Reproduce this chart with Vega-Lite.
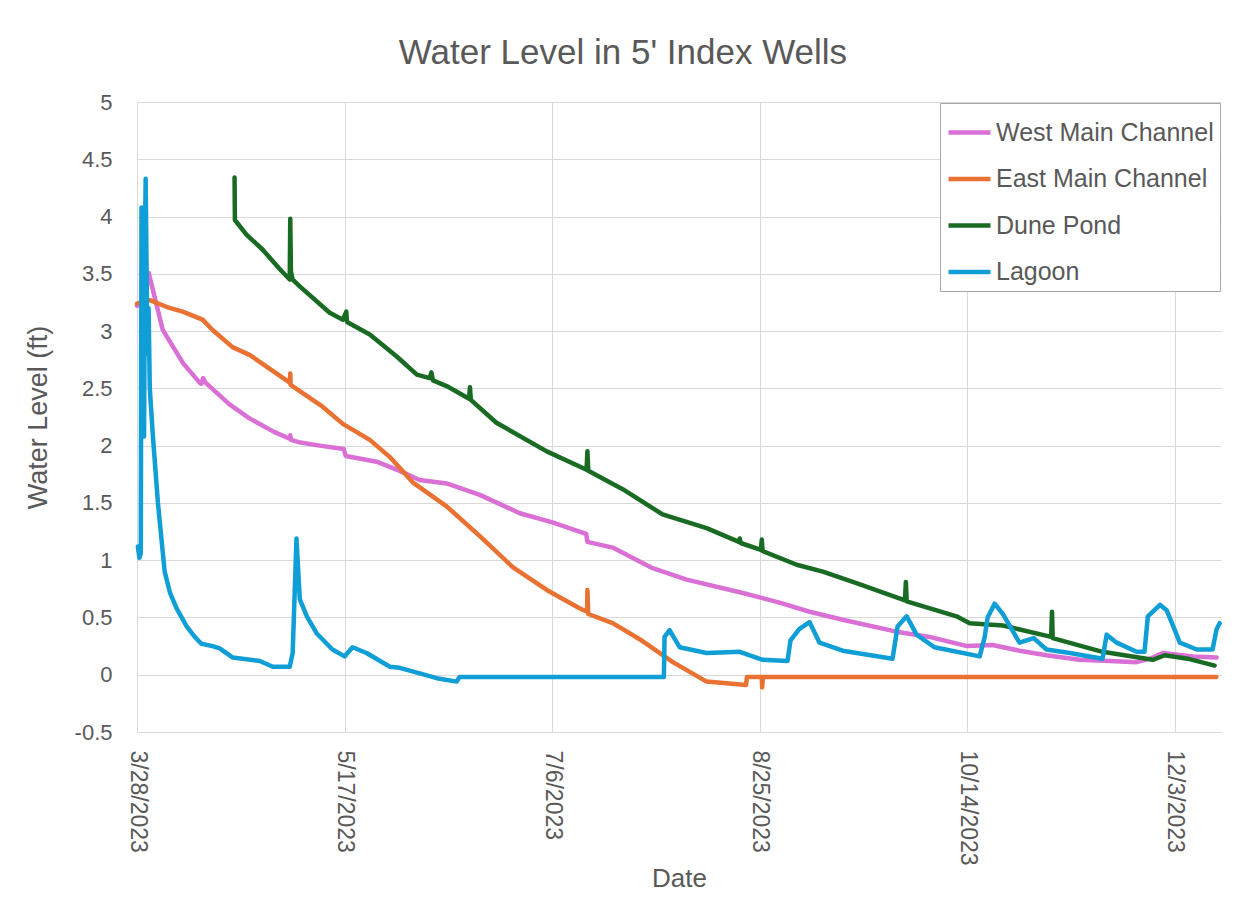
{
  "$schema": "https://vega.github.io/schema/vega-lite/v6.json",
  "autosize": {"type": "none"},
  "width": 1084,
  "height": 630,
  "padding": {"left": 137, "top": 102, "right": 35, "bottom": 171},
  "background": "white",
  "title": {"text": "Water Level in 5' Index Wells", "fontSize": 35, "font": "Liberation Sans", "fontWeight": "normal", "color": "#595959", "anchor": "middle", "frame": "bounds", "offset": 20},
  "data": {"values": [
    {"series": "West Main Channel", "date": "2023-03-28T00:00", "level": 3.22},
    {"series": "West Main Channel", "date": "2023-03-30T00:00", "level": 3.30},
    {"series": "West Main Channel", "date": "2023-03-30T19:00", "level": 3.51},
    {"series": "West Main Channel", "date": "2023-03-31T10:00", "level": 3.42},
    {"series": "West Main Channel", "date": "2023-04-03T05:00", "level": 3.01},
    {"series": "West Main Channel", "date": "2023-04-08T02:00", "level": 2.72},
    {"series": "West Main Channel", "date": "2023-04-12T02:00", "level": 2.55},
    {"series": "West Main Channel", "date": "2023-04-12T12:00", "level": 2.54},
    {"series": "West Main Channel", "date": "2023-04-12T22:00", "level": 2.59},
    {"series": "West Main Channel", "date": "2023-04-13T12:00", "level": 2.55},
    {"series": "West Main Channel", "date": "2023-04-19T07:00", "level": 2.36},
    {"series": "West Main Channel", "date": "2023-04-24T00:00", "level": 2.24},
    {"series": "West Main Channel", "date": "2023-04-30T00:00", "level": 2.12},
    {"series": "West Main Channel", "date": "2023-05-03T19:00", "level": 2.06},
    {"series": "West Main Channel", "date": "2023-05-03T22:00", "level": 2.09},
    {"series": "West Main Channel", "date": "2023-05-04T02:00", "level": 2.05},
    {"series": "West Main Channel", "date": "2023-05-06T00:00", "level": 2.03},
    {"series": "West Main Channel", "date": "2023-05-11T00:00", "level": 2.00},
    {"series": "West Main Channel", "date": "2023-05-16T19:00", "level": 1.97},
    {"series": "West Main Channel", "date": "2023-05-17T07:00", "level": 1.91},
    {"series": "West Main Channel", "date": "2023-05-24T17:00", "level": 1.86},
    {"series": "West Main Channel", "date": "2023-05-30T07:00", "level": 1.78},
    {"series": "West Main Channel", "date": "2023-06-04T02:00", "level": 1.70},
    {"series": "West Main Channel", "date": "2023-06-10T14:00", "level": 1.67},
    {"series": "West Main Channel", "date": "2023-06-18T14:00", "level": 1.57},
    {"series": "West Main Channel", "date": "2023-06-28T05:00", "level": 1.41},
    {"series": "West Main Channel", "date": "2023-07-06T02:00", "level": 1.33},
    {"series": "West Main Channel", "date": "2023-07-12T14:00", "level": 1.25},
    {"series": "West Main Channel", "date": "2023-07-14T05:00", "level": 1.23},
    {"series": "West Main Channel", "date": "2023-07-14T12:00", "level": 1.16},
    {"series": "West Main Channel", "date": "2023-07-20T14:00", "level": 1.11},
    {"series": "West Main Channel", "date": "2023-07-30T05:00", "level": 0.93},
    {"series": "West Main Channel", "date": "2023-08-07T10:00", "level": 0.83},
    {"series": "West Main Channel", "date": "2023-08-20T05:00", "level": 0.72},
    {"series": "West Main Channel", "date": "2023-08-29T19:00", "level": 0.63},
    {"series": "West Main Channel", "date": "2023-09-06T00:00", "level": 0.55},
    {"series": "West Main Channel", "date": "2023-09-14T00:00", "level": 0.48},
    {"series": "West Main Channel", "date": "2023-09-27T17:00", "level": 0.37},
    {"series": "West Main Channel", "date": "2023-10-04T22:00", "level": 0.33},
    {"series": "West Main Channel", "date": "2023-10-13T22:00", "level": 0.25},
    {"series": "West Main Channel", "date": "2023-10-20T02:00", "level": 0.26},
    {"series": "West Main Channel", "date": "2023-10-26T14:00", "level": 0.21},
    {"series": "West Main Channel", "date": "2023-11-02T02:00", "level": 0.17},
    {"series": "West Main Channel", "date": "2023-11-10T02:00", "level": 0.13},
    {"series": "West Main Channel", "date": "2023-11-17T07:00", "level": 0.12},
    {"series": "West Main Channel", "date": "2023-11-23T19:00", "level": 0.11},
    {"series": "West Main Channel", "date": "2023-11-27T00:00", "level": 0.14},
    {"series": "West Main Channel", "date": "2023-11-30T02:00", "level": 0.19},
    {"series": "West Main Channel", "date": "2023-12-07T07:00", "level": 0.16},
    {"series": "West Main Channel", "date": "2023-12-13T02:00", "level": 0.15},

    {"series": "East Main Channel", "date": "2023-03-28T00:00", "level": 3.24},
    {"series": "East Main Channel", "date": "2023-03-31T02:00", "level": 3.27},
    {"series": "East Main Channel", "date": "2023-04-04T05:00", "level": 3.21},
    {"series": "East Main Channel", "date": "2023-04-08T00:00", "level": 3.17},
    {"series": "East Main Channel", "date": "2023-04-12T19:00", "level": 3.10},
    {"series": "East Main Channel", "date": "2023-04-15T05:00", "level": 3.01},
    {"series": "East Main Channel", "date": "2023-04-20T00:00", "level": 2.86},
    {"series": "East Main Channel", "date": "2023-04-24T05:00", "level": 2.79},
    {"series": "East Main Channel", "date": "2023-04-29T00:00", "level": 2.67},
    {"series": "East Main Channel", "date": "2023-05-03T19:00", "level": 2.55},
    {"series": "East Main Channel", "date": "2023-05-03T22:00", "level": 2.63},
    {"series": "East Main Channel", "date": "2023-05-04T00:00", "level": 2.53},
    {"series": "East Main Channel", "date": "2023-05-11T17:00", "level": 2.34},
    {"series": "East Main Channel", "date": "2023-05-16T14:00", "level": 2.19},
    {"series": "East Main Channel", "date": "2023-05-23T02:00", "level": 2.05},
    {"series": "East Main Channel", "date": "2023-05-27T22:00", "level": 1.90},
    {"series": "East Main Channel", "date": "2023-06-02T10:00", "level": 1.68},
    {"series": "East Main Channel", "date": "2023-06-10T14:00", "level": 1.47},
    {"series": "East Main Channel", "date": "2023-06-18T14:00", "level": 1.21},
    {"series": "East Main Channel", "date": "2023-06-26T12:00", "level": 0.94},
    {"series": "East Main Channel", "date": "2023-07-04T17:00", "level": 0.74},
    {"series": "East Main Channel", "date": "2023-07-12T14:00", "level": 0.58},
    {"series": "East Main Channel", "date": "2023-07-14T10:00", "level": 0.55},
    {"series": "East Main Channel", "date": "2023-07-14T12:00", "level": 0.74},
    {"series": "East Main Channel", "date": "2023-07-14T17:00", "level": 0.53},
    {"series": "East Main Channel", "date": "2023-07-20T14:00", "level": 0.45},
    {"series": "East Main Channel", "date": "2023-07-27T02:00", "level": 0.31},
    {"series": "East Main Channel", "date": "2023-08-04T02:00", "level": 0.11},
    {"series": "East Main Channel", "date": "2023-08-12T05:00", "level": -0.06},
    {"series": "East Main Channel", "date": "2023-08-21T17:00", "level": -0.09},
    {"series": "East Main Channel", "date": "2023-08-21T22:00", "level": -0.02},
    {"series": "East Main Channel", "date": "2023-08-25T12:00", "level": -0.02},
    {"series": "East Main Channel", "date": "2023-08-25T14:00", "level": -0.11},
    {"series": "East Main Channel", "date": "2023-08-25T19:00", "level": -0.02},
    {"series": "East Main Channel", "date": "2023-10-14T00:00", "level": -0.02},
    {"series": "East Main Channel", "date": "2023-12-13T00:00", "level": -0.02},

    {"series": "Dune Pond", "date": "2023-04-20T12:00", "level": 4.34},
    {"series": "Dune Pond", "date": "2023-04-20T14:00", "level": 3.97},
    {"series": "Dune Pond", "date": "2023-04-23T10:00", "level": 3.84},
    {"series": "Dune Pond", "date": "2023-04-27T07:00", "level": 3.71},
    {"series": "Dune Pond", "date": "2023-05-01T10:00", "level": 3.54},
    {"series": "Dune Pond", "date": "2023-05-03T19:00", "level": 3.45},
    {"series": "Dune Pond", "date": "2023-05-03T22:00", "level": 3.98},
    {"series": "Dune Pond", "date": "2023-05-04T02:00", "level": 3.52},
    {"series": "Dune Pond", "date": "2023-05-04T12:00", "level": 3.45},
    {"series": "Dune Pond", "date": "2023-05-06T05:00", "level": 3.39},
    {"series": "Dune Pond", "date": "2023-05-13T10:00", "level": 3.16},
    {"series": "Dune Pond", "date": "2023-05-16T14:00", "level": 3.10},
    {"series": "Dune Pond", "date": "2023-05-17T10:00", "level": 3.17},
    {"series": "Dune Pond", "date": "2023-05-17T14:00", "level": 3.08},
    {"series": "Dune Pond", "date": "2023-05-23T02:00", "level": 2.97},
    {"series": "Dune Pond", "date": "2023-05-29T12:00", "level": 2.78},
    {"series": "Dune Pond", "date": "2023-06-03T10:00", "level": 2.62},
    {"series": "Dune Pond", "date": "2023-06-06T12:00", "level": 2.59},
    {"series": "Dune Pond", "date": "2023-06-06T22:00", "level": 2.64},
    {"series": "Dune Pond", "date": "2023-06-07T07:00", "level": 2.57},
    {"series": "Dune Pond", "date": "2023-06-10T14:00", "level": 2.52},
    {"series": "Dune Pond", "date": "2023-06-16T00:00", "level": 2.41},
    {"series": "Dune Pond", "date": "2023-06-16T05:00", "level": 2.51},
    {"series": "Dune Pond", "date": "2023-06-16T10:00", "level": 2.40},
    {"series": "Dune Pond", "date": "2023-06-22T14:00", "level": 2.20},
    {"series": "Dune Pond", "date": "2023-07-04T17:00", "level": 1.95},
    {"series": "Dune Pond", "date": "2023-07-14T07:00", "level": 1.79},
    {"series": "Dune Pond", "date": "2023-07-14T12:00", "level": 1.95},
    {"series": "Dune Pond", "date": "2023-07-14T17:00", "level": 1.78},
    {"series": "Dune Pond", "date": "2023-07-23T00:00", "level": 1.62},
    {"series": "Dune Pond", "date": "2023-08-01T14:00", "level": 1.40},
    {"series": "Dune Pond", "date": "2023-08-12T05:00", "level": 1.28},
    {"series": "Dune Pond", "date": "2023-08-20T00:00", "level": 1.16},
    {"series": "Dune Pond", "date": "2023-08-20T05:00", "level": 1.19},
    {"series": "Dune Pond", "date": "2023-08-20T10:00", "level": 1.15},
    {"series": "Dune Pond", "date": "2023-08-25T07:00", "level": 1.09},
    {"series": "Dune Pond", "date": "2023-08-25T12:00", "level": 1.18},
    {"series": "Dune Pond", "date": "2023-08-25T17:00", "level": 1.08},
    {"series": "Dune Pond", "date": "2023-09-02T22:00", "level": 0.96},
    {"series": "Dune Pond", "date": "2023-09-09T05:00", "level": 0.90},
    {"series": "Dune Pond", "date": "2023-09-17T07:00", "level": 0.80},
    {"series": "Dune Pond", "date": "2023-09-29T00:00", "level": 0.65},
    {"series": "Dune Pond", "date": "2023-09-29T05:00", "level": 0.81},
    {"series": "Dune Pond", "date": "2023-09-29T10:00", "level": 0.64},
    {"series": "Dune Pond", "date": "2023-10-11T10:00", "level": 0.51},
    {"series": "Dune Pond", "date": "2023-10-14T14:00", "level": 0.45},
    {"series": "Dune Pond", "date": "2023-10-22T14:00", "level": 0.43},
    {"series": "Dune Pond", "date": "2023-11-03T05:00", "level": 0.33},
    {"series": "Dune Pond", "date": "2023-11-03T10:00", "level": 0.55},
    {"series": "Dune Pond", "date": "2023-11-03T14:00", "level": 0.32},
    {"series": "Dune Pond", "date": "2023-11-15T14:00", "level": 0.20},
    {"series": "Dune Pond", "date": "2023-11-27T17:00", "level": 0.13},
    {"series": "Dune Pond", "date": "2023-11-30T14:00", "level": 0.17},
    {"series": "Dune Pond", "date": "2023-12-06T02:00", "level": 0.14},
    {"series": "Dune Pond", "date": "2023-12-12T14:00", "level": 0.08},

    {"series": "Lagoon", "date": "2023-03-28T05:00", "level": 1.12},
    {"series": "Lagoon", "date": "2023-03-28T14:00", "level": 1.02},
    {"series": "Lagoon", "date": "2023-03-28T22:00", "level": 1.06},
    {"series": "Lagoon", "date": "2023-03-29T02:00", "level": 4.08},
    {"series": "Lagoon", "date": "2023-03-29T07:00", "level": 3.30},
    {"series": "Lagoon", "date": "2023-03-29T12:00", "level": 4.00},
    {"series": "Lagoon", "date": "2023-03-29T17:00", "level": 2.08},
    {"series": "Lagoon", "date": "2023-03-29T22:00", "level": 3.80},
    {"series": "Lagoon", "date": "2023-03-30T02:00", "level": 4.33},
    {"series": "Lagoon", "date": "2023-03-30T07:00", "level": 3.60},
    {"series": "Lagoon", "date": "2023-03-30T12:00", "level": 2.80},
    {"series": "Lagoon", "date": "2023-03-30T19:00", "level": 3.20},
    {"series": "Lagoon", "date": "2023-03-31T02:00", "level": 2.50},
    {"series": "Lagoon", "date": "2023-03-31T19:00", "level": 2.10},
    {"series": "Lagoon", "date": "2023-04-02T01:00", "level": 1.50},
    {"series": "Lagoon", "date": "2023-04-03T16:00", "level": 0.90},
    {"series": "Lagoon", "date": "2023-04-04T22:00", "level": 0.72},
    {"series": "Lagoon", "date": "2023-04-06T13:00", "level": 0.58},
    {"series": "Lagoon", "date": "2023-04-09T00:00", "level": 0.42},
    {"series": "Lagoon", "date": "2023-04-10T22:00", "level": 0.33},
    {"series": "Lagoon", "date": "2023-04-12T12:00", "level": 0.27},
    {"series": "Lagoon", "date": "2023-04-15T05:00", "level": 0.25},
    {"series": "Lagoon", "date": "2023-04-16T22:00", "level": 0.23},
    {"series": "Lagoon", "date": "2023-04-20T02:00", "level": 0.15},
    {"series": "Lagoon", "date": "2023-04-26T14:00", "level": 0.12},
    {"series": "Lagoon", "date": "2023-04-29T17:00", "level": 0.07},
    {"series": "Lagoon", "date": "2023-05-03T19:00", "level": 0.07},
    {"series": "Lagoon", "date": "2023-05-04T12:00", "level": 0.19},
    {"series": "Lagoon", "date": "2023-05-05T10:00", "level": 1.19},
    {"series": "Lagoon", "date": "2023-05-06T05:00", "level": 0.66},
    {"series": "Lagoon", "date": "2023-05-07T22:00", "level": 0.51},
    {"series": "Lagoon", "date": "2023-05-10T07:00", "level": 0.36},
    {"series": "Lagoon", "date": "2023-05-14T02:00", "level": 0.22},
    {"series": "Lagoon", "date": "2023-05-17T00:00", "level": 0.16},
    {"series": "Lagoon", "date": "2023-05-18T22:00", "level": 0.24},
    {"series": "Lagoon", "date": "2023-05-22T07:00", "level": 0.19},
    {"series": "Lagoon", "date": "2023-05-27T22:00", "level": 0.07},
    {"series": "Lagoon", "date": "2023-05-30T07:00", "level": 0.06},
    {"series": "Lagoon", "date": "2023-06-08T05:00", "level": -0.03},
    {"series": "Lagoon", "date": "2023-06-13T00:00", "level": -0.06},
    {"series": "Lagoon", "date": "2023-06-13T17:00", "level": -0.02},
    {"series": "Lagoon", "date": "2023-07-06T00:00", "level": -0.02},
    {"series": "Lagoon", "date": "2023-08-01T22:00", "level": -0.02},
    {"series": "Lagoon", "date": "2023-08-02T02:00", "level": 0.33},
    {"series": "Lagoon", "date": "2023-08-03T07:00", "level": 0.39},
    {"series": "Lagoon", "date": "2023-08-05T17:00", "level": 0.24},
    {"series": "Lagoon", "date": "2023-08-12T05:00", "level": 0.19},
    {"series": "Lagoon", "date": "2023-08-20T05:00", "level": 0.20},
    {"series": "Lagoon", "date": "2023-08-25T17:00", "level": 0.13},
    {"series": "Lagoon", "date": "2023-08-31T17:00", "level": 0.12},
    {"series": "Lagoon", "date": "2023-09-01T10:00", "level": 0.30},
    {"series": "Lagoon", "date": "2023-09-03T14:00", "level": 0.40},
    {"series": "Lagoon", "date": "2023-09-06T00:00", "level": 0.46},
    {"series": "Lagoon", "date": "2023-09-08T10:00", "level": 0.28},
    {"series": "Lagoon", "date": "2023-09-14T00:00", "level": 0.21},
    {"series": "Lagoon", "date": "2023-09-26T00:00", "level": 0.14},
    {"series": "Lagoon", "date": "2023-09-27T05:00", "level": 0.42},
    {"series": "Lagoon", "date": "2023-09-29T10:00", "level": 0.51},
    {"series": "Lagoon", "date": "2023-10-01T19:00", "level": 0.35},
    {"series": "Lagoon", "date": "2023-10-06T02:00", "level": 0.24},
    {"series": "Lagoon", "date": "2023-10-17T00:00", "level": 0.16},
    {"series": "Lagoon", "date": "2023-10-18T05:00", "level": 0.33},
    {"series": "Lagoon", "date": "2023-10-18T22:00", "level": 0.50},
    {"series": "Lagoon", "date": "2023-10-20T14:00", "level": 0.62},
    {"series": "Lagoon", "date": "2023-10-22T14:00", "level": 0.53},
    {"series": "Lagoon", "date": "2023-10-26T14:00", "level": 0.28},
    {"series": "Lagoon", "date": "2023-10-30T00:00", "level": 0.32},
    {"series": "Lagoon", "date": "2023-11-02T02:00", "level": 0.22},
    {"series": "Lagoon", "date": "2023-11-07T17:00", "level": 0.19},
    {"series": "Lagoon", "date": "2023-11-15T14:00", "level": 0.14},
    {"series": "Lagoon", "date": "2023-11-16T14:00", "level": 0.35},
    {"series": "Lagoon", "date": "2023-11-19T00:00", "level": 0.28},
    {"series": "Lagoon", "date": "2023-11-23T19:00", "level": 0.20},
    {"series": "Lagoon", "date": "2023-11-25T17:00", "level": 0.20},
    {"series": "Lagoon", "date": "2023-11-26T12:00", "level": 0.51},
    {"series": "Lagoon", "date": "2023-11-29T10:00", "level": 0.61},
    {"series": "Lagoon", "date": "2023-12-01T02:00", "level": 0.56},
    {"series": "Lagoon", "date": "2023-12-04T05:00", "level": 0.28},
    {"series": "Lagoon", "date": "2023-12-08T07:00", "level": 0.22},
    {"series": "Lagoon", "date": "2023-12-12T02:00", "level": 0.22},
    {"series": "Lagoon", "date": "2023-12-13T02:00", "level": 0.40},
    {"series": "Lagoon", "date": "2023-12-13T19:00", "level": 0.45}
  ]},
  "mark": {"type": "line", "strokeWidth": 4.5, "strokeCap": "round", "strokeJoin": "round"},
  "encoding": {
    "x": {
      "field": "date", "type": "temporal", "title": "Date",
      "scale": {"domain": [{"year": 2023, "month": 3, "date": 28}, {"year": 2023, "month": 12, "date": 14, "hours": 3}]},
      "axis": {
        "values": [
          {"year": 2023, "month": 3, "date": 28},
          {"year": 2023, "month": 5, "date": 17},
          {"year": 2023, "month": 7, "date": 6},
          {"year": 2023, "month": 8, "date": 25},
          {"year": 2023, "month": 10, "date": 14},
          {"year": 2023, "month": 12, "date": 3}
        ],
        "format": "%-m/%-d/%Y", "labelAngle": 90, "labelPadding": 18, "labelFlush": false, "labelOverlap": false, "titlePadding": 0
      }
    },
    "y": {
      "field": "level", "type": "quantitative", "title": "Water Level (ft)",
      "scale": {"domain": [-0.5, 5], "nice": false, "zero": false},
      "axis": {
        "values": [-0.5, 0, 0.5, 1, 1.5, 2, 2.5, 3, 3.5, 4, 4.5, 5],
        "labelExpr": "datum.value < 0 ? '-' + format(-datum.value, '.1~f') : format(datum.value, '.1~f')",
        "labelPadding": 25, "labelFontSize": 22, "titlePadding": 22, "titleFontSize": 27
      }
    },
    "color": {
      "field": "series", "type": "nominal",
      "scale": {"domain": ["West Main Channel", "East Main Channel", "Dune Pond", "Lagoon"], "range": ["#DA70D6", "#E97132", "#196B24", "#0F9ED5"]},
      "legend": {
        "title": null, "orient": "top-right", "offset": 1, "padding": 6,
        "strokeColor": "#a6a6a6", "fillColor": "white",
        "labelFontSize": 25, "labelColor": "#595959", "labelFont": "Liberation Sans", "labelLimit": 400,
        "symbolType": "stroke", "symbolSize": 1764, "symbolStrokeWidth": 4.5,
        "rowPadding": 9.5, "labelOffset": 3
      }
    }
  },
  "config": {
    "font": "Liberation Sans",
    "view": {"stroke": null},
    "axis": {
      "domain": false, "ticks": false, "tickSize": 0, "grid": true, "gridColor": "#d9d9d9", "gridWidth": 1,
      "labelFontSize": 23, "labelColor": "#595959", "labelFont": "Liberation Sans",
      "titleFontSize": 26, "titleFontWeight": "normal", "titleColor": "#595959", "titleFont": "Liberation Sans"
    }
  }
}
